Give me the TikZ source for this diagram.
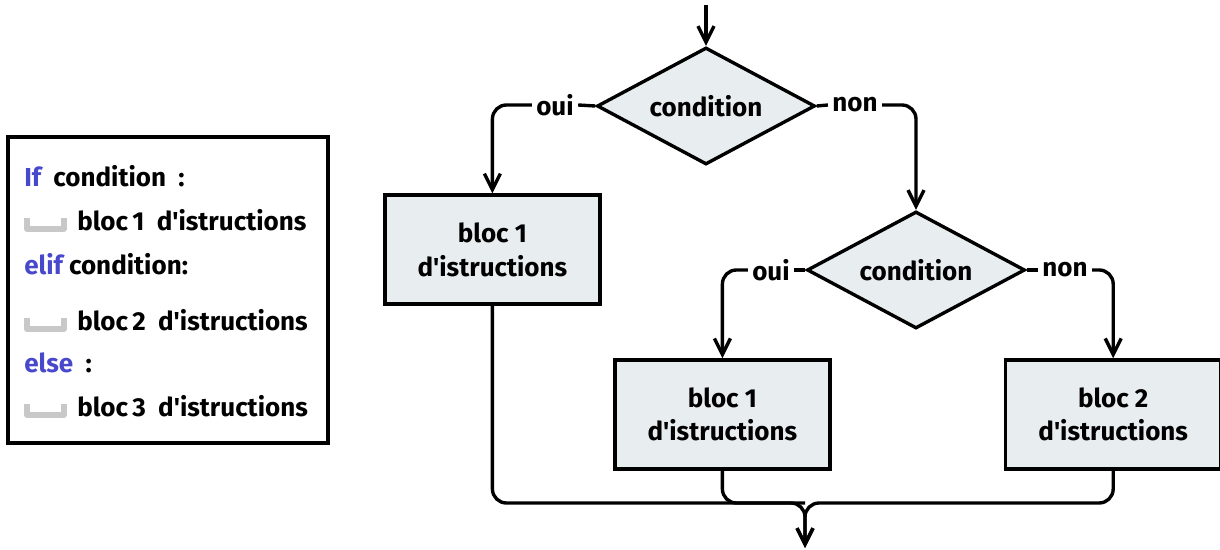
\documentclass[tikz,border=0pt]{standalone}
\usepackage{fontspec}
\setmainfont{Fira Sans}
\usetikzlibrary{shapes.geometric,arrows.meta}
\definecolor{fondbloc}{RGB}{232,238,240}
\definecolor{motcle}{RGB}{72,72,204}
\definecolor{gris}{RGB}{200,200,200}
\newcommand{\apos}{\textquotesingle}

\begin{document}
\begin{tikzpicture}[
  every node/.style={font=\fontsize{18.5}{24}\selectfont\bfseries},
  bloc/.style={draw, line width=2.4pt, fill=fondbloc, minimum width=5.375cm, minimum height=2.725cm, align=center},
  test/.style={draw, diamond, aspect=1.86, line width=2.4pt, fill=fondbloc, minimum width=5.45cm, minimum height=2.925cm, inner sep=0pt},
  lien/.style={line width=2.4pt, rounded corners=0.35cm},
  fleche/.style={lien, -{Straight Barb[length=4mm,width=4mm]}},
  etiq/.style={inner sep=3pt},
  ligne/.style={anchor=west, inner sep=0pt},
  espace/.style={draw=gris, line width=4pt, line join=round}
]
 \useasboundingbox (0,0) rectangle (30.5,-13.75);

 \draw (4.2, -7.25) node[draw, line width=2.4pt, minimum width=8cm, minimum height=7.65cm] (cadre) {};
 \draw (0.6, -4.4) node[ligne] (l1) {\textcolor{motcle}{If}\ \ condition\ \ :};
 \draw (1.925, -5.5) node[ligne] (l2) {bloc\,1~~d\apos istructions};
 \draw (0.6, -6.6) node[ligne] (l3) {\textcolor{motcle}{elif} condition:};
 \draw (1.925, -8.0) node[ligne] (l4) {bloc\,2~~d\apos istructions};
 \draw (0.6, -9.075) node[ligne] (l5) {\textcolor{motcle}{else}\ \ :};
 \draw (1.925, -10.15) node[ligne] (l6) {bloc\,3~~d\apos istructions};
 \foreach \y in {-5.5, -8.0, -10.15}
   \draw[espace] (0.67, \y+0.05) -- (0.67, \y-0.22) -- (1.6, \y-0.22) -- (1.6, \y+0.05);

 \coordinate (entree) at (17.65, -0.125);
 \draw (17.65, -2.65) node[test] (test1) {condition};
 \draw (13.875, -2.625) node[etiq] (oui1) {oui};
 \draw (21.375, -2.625) node[etiq] (non1) {non};
 \draw (12.31, -6.24) node[bloc] (bloc1) {bloc 1\\d\apos istructions};
 \draw (22.9, -6.75) node[test] (test2) {condition};
 \draw (19.275, -6.75) node[etiq] (oui2) {oui};
 \draw (26.625, -6.75) node[etiq] (non2) {non};
 \draw (18.06, -10.36) node[bloc] (bloc2) {bloc 1\\d\apos istructions};
 \draw (27.83, -10.36) node[bloc] (bloc3) {bloc 2\\d\apos istructions};
 \coordinate (jonction) at (20.125, -12.575);
 \coordinate (sortie) at (20.125, -13.7);

 \draw[fleche] (entree) -- (test1.north);
 \draw[lien] (test1.west) -- (oui1.east);
 \draw[fleche] (oui1.west) -| (bloc1.north);
 \draw[lien] (test1.east) -- (non1.west);
 \draw[fleche] (non1.east) -| (test2.north);
 \draw[lien] (test2.west) -- (oui2.east);
 \draw[fleche] (oui2.west) -| (bloc2.north);
 \draw[lien] (test2.east) -- (non2.west);
 \draw[fleche] (non2.east) -| (bloc3.north);
 \draw[fleche] (bloc1.south) |- (jonction) -- (sortie);
 \draw[fleche] (bloc3.south) |- (jonction) -- (sortie);
 \draw[lien] (bloc2.south) |- (jonction);
\end{tikzpicture}
\end{document}
